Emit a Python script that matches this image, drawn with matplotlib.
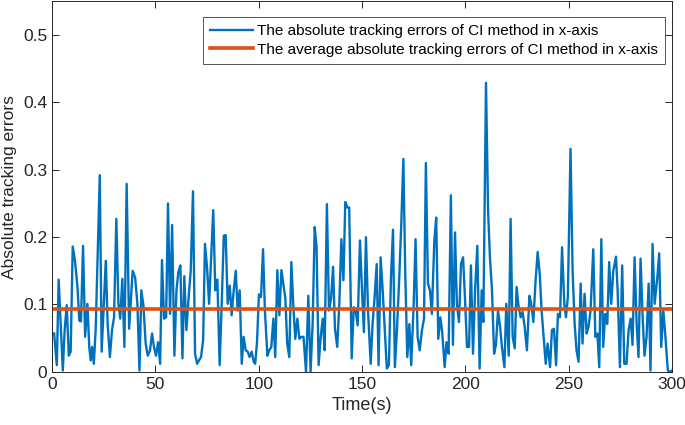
import matplotlib
matplotlib.use("Agg")
import matplotlib.pyplot as plt

# absolute tracking errors (time in s, error)
t_err = [1, 2.3, 3.2, 5.2, 6.1, 7.1, 8.1, 9, 10, 11.1, 12.3, 13.2, 14, 15, 16, 17.1, 18, 18.7, 19.4, 20.2,
         21.1, 23.1, 24, 26, 26.9, 28, 29, 30, 31.1, 32.1, 33, 34, 35, 36.1, 37.3, 39, 40.2, 41.3, 42.3, 43.2,
         44.2, 45.3, 46.3, 47.4, 48.4, 49.3, 50.3, 51.3, 52.3, 53.2, 54.2, 55.2, 56.1, 57.1, 58.1, 59.2, 60.2,
         61.1, 62.1, 63.1, 64, 65, 66.1, 67.1, 68.2, 69.2, 70.2, 71.1, 72.1, 73.1, 74, 75, 76, 77, 78, 79, 80,
         81.1, 82.1, 83.1, 84, 85, 86, 86.9, 87.9, 88.9, 89.8, 90.8, 91.8, 92.7, 93.7, 94.7, 95.6, 96.6, 97.6,
         98.3, 99.2, 100.1, 101.1, 102.1, 103, 104.2, 105.1, 106.1, 107.1, 108, 109, 110, 111, 111.9, 112.9,
         113.8, 114.8, 115.8, 116.7, 117.7, 118.7, 119.7, 120.6, 121.7, 122.9, 124, 125.1, 126.1, 127.1, 128,
         129, 130, 131, 131.9, 133, 134, 135, 136, 136.9, 138, 139, 140, 141, 141.9, 142.9, 143.8, 145, 146,
         146.9, 147.9, 149, 150, 150.9, 151.9, 152.9, 154.2, 155.1, 156.1, 157.1, 158, 159, 160, 161, 162,
         163, 164, 165, 165.9, 166.9, 167.9, 169, 170, 170.9, 171.9, 172.9, 173.8, 175, 175.9, 176.9, 177.9,
         179, 180, 180.9, 181.9, 182.9, 183.8, 185, 185.9, 186.9, 187.9, 188.8, 190, 190.9, 191.9, 193, 194,
         195, 195.9, 196.9, 197.9, 198.9, 199.8, 200.8, 201.8, 202.7, 203.7, 204.7, 205.8, 206.9, 207.9, 208.7,
         210, 211, 211.9, 212.9, 213.9, 214.8, 215.8, 216.8, 217.7, 218.9, 219.8, 221, 221.9, 222.9, 223.9,
         224.8, 225.8, 226.8, 227.7, 228.7, 229.8, 231, 231.9, 232.9, 234, 235, 236, 236.9, 237.9, 238.9,
         239.8, 241, 241.9, 242.9, 243.9, 244.8, 245.8, 246.8, 247.9, 248.7, 249.6, 250.9, 251.9, 252.9, 253.8,
         254.8, 255.8, 256.7, 257.7, 258.7, 259.6, 260.6, 261.9, 262.9, 263.9, 264.8, 265.8, 266.7, 267.7,
         268.7, 269.6, 270.6, 271.6, 272.9, 273.7, 274.8, 275.9, 276.9, 278, 279, 280, 280.9, 281.9, 282.9,
         283.8, 284.8, 285.8, 286.7, 287.7, 288.7, 289.6, 290.6, 291.6, 292.9, 293.8, 294.8, 295.8, 296.7,
         298, 299, 300]
err = [0.057, 0.01, 0.137, 0.002, 0.062, 0.099, 0.024, 0.03, 0.186, 0.165, 0.126, 0.076, 0.075, 0.187, 0.052,
       0.101, 0.037, 0.017, 0.037, 0.012, 0.062, 0.292, 0.03, 0.165, 0.071, 0.022, 0.062, 0.081, 0.227, 0.101,
       0.079, 0.138, 0.037, 0.279, 0.064, 0.15, 0.14, 0.101, 0.002, 0.121, 0.099, 0.042, 0.024, 0.032, 0.057,
       0.037, 0.024, 0.044, 0.012, 0.166, 0.079, 0.081, 0.25, 0.086, 0.218, 0.024, 0.121, 0.148, 0.158, 0.02,
       0.142, 0.062, 0.111, 0.15, 0.268, 0.027, 0.012, 0.017, 0.022, 0.047, 0.19, 0.155, 0.101, 0.17, 0.24,
       0.121, 0.137, 0.01, 0.101, 0.202, 0.203, 0.101, 0.128, 0.084, 0.121, 0.15, 0.091, 0.121, 0.012, 0.052,
       0.032, 0.03, 0.022, 0.03, 0.015, 0.012, 0.045, 0.115, 0.111, 0.182, 0.091, 0.024, 0.032, 0.037, 0.079,
       0.022, 0.151, 0.084, 0.151, 0.131, 0.109, 0.042, 0.022, 0.163, 0.101, 0.049, 0.079, 0.049, 0.052,
       0.052, 0.0, 0.113, 0.0, 0.071, 0.215, 0.185, 0.01, 0.052, 0.079, 0.032, 0.249, 0.091, 0.109, 0.156,
       0.064, 0.037, 0.101, 0.197, 0.136, 0.252, 0.244, 0.244, 0.02, 0.096, 0.091, 0.069, 0.195, 0.121, 0.059,
       0.2, 0.091, 0.012, 0.071, 0.111, 0.16, 0.01, 0.17, 0.121, 0.062, 0.005, 0.01, 0.14, 0.211, 0.007,
       0.062, 0.131, 0.22, 0.316, 0.15, 0.022, 0.071, 0.01, 0.101, 0.197, 0.052, 0.032, 0.062, 0.079, 0.31,
       0.131, 0.121, 0.086, 0.195, 0.229, 0.049, 0.081, 0.059, 0.007, 0.044, 0.027, 0.262, 0.04, 0.207,
       0.101, 0.074, 0.16, 0.17, 0.111, 0.037, 0.037, 0.158, 0.027, 0.121, 0.187, 0.005, 0.121, 0.074, 0.429,
       0.239, 0.17, 0.121, 0.027, 0.04, 0.091, 0.067, 0.037, 0.007, 0.101, 0.024, 0.227, 0.052, 0.035, 0.126,
       0.096, 0.081, 0.089, 0.067, 0.032, 0.113, 0.101, 0.074, 0.136, 0.178, 0.145, 0.091, 0.052, 0.012,
       0.042, 0.007, 0.062, 0.064, 0.01, 0.086, 0.081, 0.185, 0.101, 0.081, 0.111, 0.331, 0.15, 0.071, 0.032,
       0.015, 0.131, 0.042, 0.116, 0.057, 0.067, 0.091, 0.182, 0.052, 0.057, 0.007, 0.197, 0.037, 0.086,
       0.071, 0.163, 0.101, 0.15, 0.171, 0.121, 0.007, 0.158, 0.012, 0.012, 0.062, 0.079, 0.04, 0.17, 0.071,
       0.022, 0.168, 0.081, 0.024, 0.052, 0.131, 0.002, 0.19, 0.101, 0.14, 0.176, 0.037, 0.091, 0.057, 0.002,
       0.0, 0.002]
avg_err = 0.094
t_range = [0, 300]

plt.rcParams["font.family"] = ["Liberation Sans", "DejaVu Sans"]
plt.rcParams["xtick.direction"] = "in"
plt.rcParams["ytick.direction"] = "in"

fig = plt.figure(figsize=(6.85, 4.25), dpi=100)
ax = fig.add_axes([0.076, 0.125, 0.905, 0.872])

ax.plot(t_err, err, color="#0072BD", lw=1.7,
        label="The absolute tracking errors of CI method in x-axis")
ax.plot(t_range, [avg_err, avg_err], color="#D95319", lw=2.6,
        label="The average absolute tracking errors of CI method in x-axis")

ax.set_xlim(0, 300)
ax.set_ylim(0, 0.55)
ax.set_xticks([0, 50, 100, 150, 200, 250, 300])
ax.set_yticks([0, 0.1, 0.2, 0.3, 0.4, 0.5])
ax.set_yticklabels(["0", "0.1", "0.2", "0.3", "0.4", "0.5"])
ax.tick_params(top=True, right=True, labelsize=12.5, length=5, width=0.7, colors="#262626")
for s in ax.spines.values():
    s.set_color("#262626")
    s.set_linewidth(0.7)

ax.set_xlabel("Time(s)", fontsize=13, color="#262626", labelpad=4)
ax.set_ylabel("Absolute tracking errors", fontsize=12.5, color="#262626", labelpad=4)

leg = ax.legend(loc="upper right", bbox_to_anchor=(0.989, 0.957), fontsize=11,
                frameon=True, fancybox=False, edgecolor="#262626", handlelength=2.8,
                handletextpad=0.3, borderpad=0.45, labelspacing=0.3, borderaxespad=0)
leg.get_frame().set_linewidth(0.7)

fig.savefig("out.png", dpi=100)
